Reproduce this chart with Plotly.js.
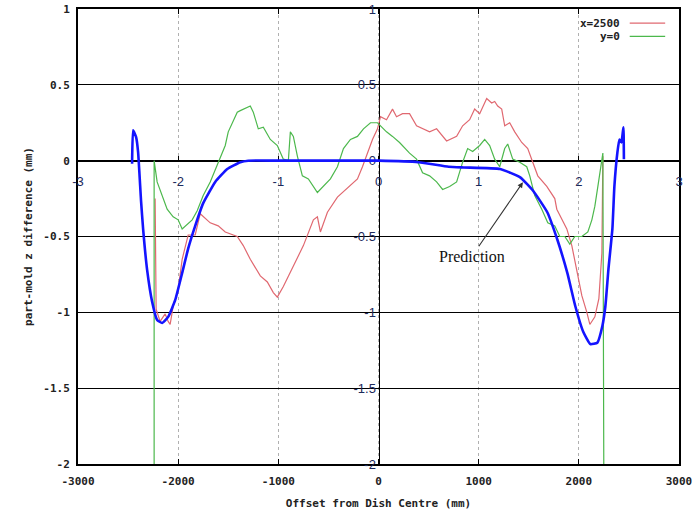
<!DOCTYPE html>
<html>
<head>
<meta charset="utf-8">
<script src="https://cdn.plot.ly/plotly-3.0.1.min.js"></script>
<style>html,body{margin:0;padding:0;background:#fff}#chart{width:697px;height:511px}</style>
</head>
<body>
<div id="chart"></div>
<script>
// Prediction (blue)
const blueX = [-2460,-2450,-2420,-2400,-2370,-2350,-2310,-2260,-2210,-2160,-2100,-2030,-1960,-1900,-1830,-1750,-1630,-1510,-1380,-1300,-1000,-500,0,400,700,850,1215,1415,1545,1685,1785,1885,1965,2045,2115,2185,2235,2265,2295,2335,2355,2385,2405,2425,2445,2450];
const blueY = [-0.02,0.2,0.155,0.056,-0.27,-0.45,-0.72,-0.93,-1.05,-1.07,-1.03,-0.92,-0.74,-0.58,-0.43,-0.28,-0.14,-0.055,-0.01,0,0,0,0,-0.01,-0.04,-0.045,-0.055,-0.11,-0.2,-0.34,-0.52,-0.74,-0.96,-1.13,-1.21,-1.2,-1.09,-0.96,-0.72,-0.45,-0.17,0.055,0.14,0.12,0.22,0.01];
// x=2500 (red)
const redX = [-2230,-2220,-2180,-2130,-2100,-2080,-2050,-2000,-1960,-1900,-1830,-1780,-1680,-1600,-1530,-1450,-1410,-1350,-1280,-1180,-1110,-1050,-1010,-950,-850,-750,-650,-610,-580,-510,-410,-330,-210,-160,-110,-60,-10,20,80,140,180,240,310,380,510,580,680,780,840,910,960,1010,1080,1130,1160,1190,1230,1260,1310,1360,1430,1490,1540,1590,1680,1760,1780,1880,1930,1980,2030,2080,2110,2160,2200,2230,2240];
const redY = [-0.25,-0.98,-1.06,-1.01,-1.06,-1.08,-0.96,-0.85,-0.65,-0.49,-0.49,-0.35,-0.41,-0.43,-0.47,-0.49,-0.5,-0.56,-0.65,-0.76,-0.8,-0.87,-0.9,-0.83,-0.7,-0.56,-0.39,-0.37,-0.47,-0.34,-0.24,-0.19,-0.12,-0.04,0.05,0.14,0.21,0.29,0.27,0.34,0.29,0.31,0.31,0.23,0.19,0.21,0.13,0.16,0.23,0.27,0.34,0.31,0.41,0.38,0.39,0.36,0.34,0.23,0.25,0.19,0.12,0.08,-0.01,-0.1,-0.17,-0.25,-0.32,-0.45,-0.56,-0.72,-0.89,-1.0,-1.08,-1.03,-0.91,-0.61,0.03];
// y=0 (green)
const greenX = [-2240,-2240,-2210,-2160,-2110,-2050,-2000,-1960,-1910,-1860,-1810,-1750,-1680,-1630,-1580,-1530,-1500,-1460,-1410,-1380,-1350,-1280,-1250,-1200,-1150,-1080,-1010,-950,-900,-880,-850,-810,-760,-700,-610,-550,-480,-410,-350,-280,-210,-150,-80,-10,30,80,140,210,310,380,440,510,580,640,710,780,840,890,940,1010,1060,1110,1160,1210,1260,1290,1340,1410,1480,1510,1560,1630,1690,1760,1810,1860,1910,1960,2030,2090,2130,2160,2190,2230,2240,2250];
const greenY = [-2.2,0,-0.14,-0.23,-0.32,-0.37,-0.39,-0.45,-0.42,-0.39,-0.33,-0.23,-0.14,-0.06,0.03,0.1,0.19,0.25,0.32,0.33,0.34,0.36,0.32,0.21,0.22,0.14,0.1,0.01,0,0.19,0.16,0.03,-0.1,-0.12,-0.21,-0.17,-0.12,-0.04,0.08,0.14,0.16,0.21,0.25,0.25,0.22,0.19,0.16,0.12,0.05,0.01,-0.08,-0.1,-0.14,-0.19,-0.17,-0.14,-0.01,0.08,0.06,0.1,0.14,0.1,0.01,-0.04,0.08,0.11,0.01,-0.01,-0.04,-0.1,-0.23,-0.32,-0.41,-0.43,-0.5,-0.5,-0.55,-0.5,-0.5,-0.47,-0.39,-0.3,-0.17,-0.01,0.05,-2.2];

// tick labels
const outerXTicks = [-3000,-2000,-1000,0,1000,2000,3000];
const outerXText = ["-3000","-2000","-1000","0","1000","2000","3000"];
const outerYTicks = [1,0.5,0,-0.5,-1,-1.5,-2];
const outerYText = ["1","0.5","0","-0.5","-1","-1.5","-2"];
const innerXTicks = [-3,-2,-1,0,1,2,3];
const innerXText = ["-3","-2","-1","0","1","2","3"];
const innerYTicks = [1,0.5,0,-0.5,-1,-1.5,-2];
const innerYText = ["1","0.5","0","-0.5","-1","-1.5","-2"];
const seriesNames = ["x=2500","y=0","Prediction"];

const monoBold = {family: "DejaVu Sans Mono", size: 11, color: "#222", weight: "bold"};
const innerFont = {family: "Liberation Sans, Arial", size: 13, color: "#1c2a5c"};

const traces = [
  {x: redX, y: redY, type: "scatter", mode: "lines", name: seriesNames[0],
   line: {color: "#e06870", width: 1.2}, showlegend: false},
  {x: greenX, y: greenY, type: "scatter", mode: "lines", name: seriesNames[1],
   line: {color: "#4cb84c", width: 1.2}, showlegend: false},
  {x: blueX, y: blueY, type: "scatter", mode: "lines", name: seriesNames[2],
   line: {color: "#1414ff", width: 2.6, shape: "spline", smoothing: 0.4}, showlegend: false},
  {x: [], y: [], xaxis: "x2", yaxis: "y2", type: "scatter", mode: "lines",
   showlegend: false, hoverinfo: "skip"}
];

const layout = {
  width: 697, height: 511,
  margin: {l: 78, r: 18, t: 9, b: 47},
  paper_bgcolor: "#fff", plot_bgcolor: "#fff",
  showlegend: false,
  xaxis: {
    range: [-3000, 3000], tickvals: outerXTicks, ticktext: outerXText,
    showgrid: true, gridcolor: "#b0b0b0", griddash: "dot", gridwidth: 1,
    zeroline: false, showline: true, mirror: "ticks", linecolor: "#000", linewidth: 2,
    ticks: "inside", ticklen: 5, tickcolor: "#000", ticklabelstandoff: 6,
    tickfont: monoBold, layer: "below traces",
    title: {text: "Offset from Dish Centre (mm)", font: monoBold, standoff: 12}
  },
  yaxis: {
    range: [-2, 1], tickvals: outerYTicks, ticktext: outerYText,
    showgrid: true, gridcolor: "#b0b0b0", griddash: "dot", gridwidth: 1,
    zeroline: false, showline: true, mirror: "ticks", linecolor: "#000", linewidth: 2,
    ticks: "inside", ticklen: 5, tickcolor: "#000", ticklabelstandoff: 4,
    tickfont: monoBold, layer: "below traces",
    title: {text: "part-mold z difference (mm)", font: monoBold, standoff: 8}
  },
  xaxis2: {
    overlaying: "x", anchor: "free", position: 2/3, side: "bottom",
    range: [-3, 3], tickvals: innerXTicks, ticktext: innerXText,
    showgrid: false, zeroline: false, showline: true, linecolor: "#000", linewidth: 1.3,
    ticks: "inside", ticklen: 5, tickcolor: "#000",
    tickfont: innerFont, ticklabelstandoff: 8, layer: "below traces"
  },
  yaxis2: {
    overlaying: "y", anchor: "free", position: 0.5, side: "left",
    range: [-2, 1], tickvals: innerYTicks, ticktext: innerYText,
    showgrid: true, gridcolor: "#000", gridwidth: 1.3,
    zeroline: false, showline: true, linecolor: "#000", linewidth: 1.3,
    ticks: "", tickfont: innerFont, layer: "below traces"
  },
  annotations: [
    {x: 1442, y: -0.142, xref: "x", yref: "y", text: "Prediction",
     showarrow: true, arrowhead: 2, arrowsize: 1, arrowwidth: 1.1, arrowcolor: "#333",
     ax: -51, ay: 74, font: {family: "Liberation Serif", size: 16, color: "#111"}},
    {x: 0.905, y: 0.969, xref: "paper", yref: "paper", xanchor: "right", yanchor: "middle",
     text: seriesNames[0], showarrow: false, font: monoBold},
    {x: 0.905, y: 0.940, xref: "paper", yref: "paper", xanchor: "right", yanchor: "middle",
     text: seriesNames[1], showarrow: false, font: monoBold}
  ],
  shapes: [
    {type: "line", xref: "paper", yref: "paper", x0: 0.918, x1: 0.977, y0: 0.969, y1: 0.969,
     line: {color: "#e06870", width: 1.2}},
    {type: "line", xref: "paper", yref: "paper", x0: 0.918, x1: 0.977, y0: 0.940, y1: 0.940,
     line: {color: "#4cb84c", width: 1.2}}
  ]
};

Plotly.newPlot("chart", traces, layout, {displayModeBar: false, staticPlot: true});
</script>
</body>
</html>
